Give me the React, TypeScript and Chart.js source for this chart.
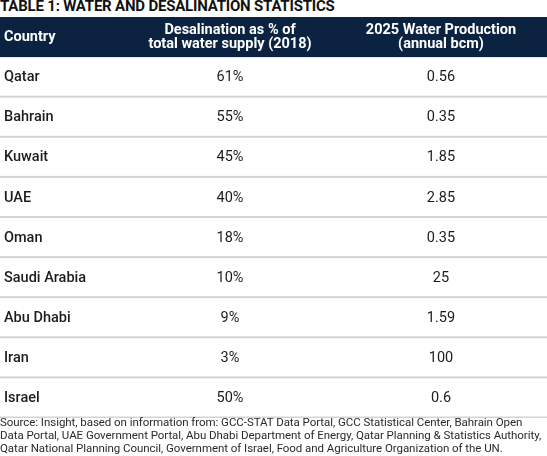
import React, { useEffect, useRef } from "react";
import { Chart, registerables } from "chart.js";

Chart.register(...registerables);

const TITLE = "TABLE 1: WATER AND DESALINATION STATISTICS";
const headers = ["Country", "Desalination as % of\ntotal water supply (2018)", "2025 Water Production\n(annual bcm)"];
const countries = ["Qatar", "Bahrain", "Kuwait", "UAE", "Oman", "Saudi Arabia", "Abu Dhabi", "Iran", "Israel"];
const desalShare = ["61%", "55%", "45%", "40%", "18%", "10%", "9%", "3%", "50%"];
const production = ["0.56", "0.35", "1.85", "2.85", "0.35", "25", "1.59", "100", "0.6"];
const SOURCE_LINES = [
  "Source: Insight, based on information from: GCC-STAT Data Portal, GCC Statistical Center, Bahrain Open",
  "Data Portal, UAE Government Portal, Abu Dhabi Department of Energy, Qatar Planning & Statistics Authority,",
  "Qatar National Planning Council, Government of Israel, Food and Agriculture Organization of the UN.",
];

const FONT = "Roboto, 'Noto Sans', sans-serif";
const NAVY = "#0b2340";
const rowKeys = ["header", ...countries];

const tablePlugin = {
  id: "tableDraw",
  afterDraw(chart: any) {
    const { ctx } = chart;
    const y = chart.scales.y;
    const x = chart.scales.x;
    const step = Math.abs(y.getPixelForValue(1) - y.getPixelForValue(0));
    const left = x.getPixelForValue(0);
    const right = x.getPixelForValue(547);
    const colX = [x.getPixelForValue(4), x.getPixelForValue(230), x.getPixelForValue(441)];
    ctx.save();
    // header band
    const hy = y.getPixelForValue(0);
    ctx.fillStyle = NAVY;
    ctx.fillRect(left, hy - step / 2, right - left, step);
    ctx.fillStyle = "#ffffff";
    ctx.textBaseline = "middle";
    ctx.font = `bold 14.5px ${FONT}`;
    headers.forEach((h, ci) => {
      const lines = h.split("\n");
      ctx.textAlign = ci === 0 ? "left" : "center";
      const lh = 14.5;
      lines.forEach((ln, li) => {
        const off = (li - (lines.length - 1) / 2) * lh;
        ctx.fillText(ln, colX[ci], hy + off + 0.5);
      });
    });
    // rows
    countries.forEach((c, i) => {
      const cy = y.getPixelForValue(i + 1);
      ctx.fillStyle = "#1c1c1c";
      ctx.textAlign = "left";
      ctx.font = `500 14.5px ${FONT}`;
      ctx.fillText(c, colX[0], cy + 0.5);
      ctx.font = `400 14.5px ${FONT}`;
      ctx.textAlign = "center";
      ctx.fillText(desalShare[i], colX[1], cy + 0.5);
      ctx.fillText(production[i], colX[2], cy + 0.5);
      ctx.fillStyle = "#d4d4d4";
      ctx.fillRect(left, cy + step / 2 - 1.5, right - left, 2);
    });
    ctx.restore();
  },
};

export default function App() {
  const ref = useRef<HTMLCanvasElement>(null);
  useEffect(() => {
    document.body.style.margin = "0";
    const chart = new Chart(ref.current!, {
      type: "scatter",
      data: { datasets: [] },
      options: {
        animation: false,
        responsive: false,
        devicePixelRatio: 1,
        layout: { padding: 0 },
        plugins: { legend: { display: false }, tooltip: { enabled: false } },
        scales: {
          x: { type: "linear", min: 0, max: 547, display: false },
          y: { type: "category", labels: rowKeys, offset: true, display: false },
        },
      },
      plugins: [tablePlugin],
    });
    return () => chart.destroy();
  }, []);
  return (
    <div style={{ position: "relative", width: 547, height: 456, background: "#fff", fontFamily: FONT, overflow: "hidden" }}>
      <div
        style={{
          position: "absolute",
          left: 0,
          top: -1,
          fontWeight: 700,
          fontSize: 15,
          lineHeight: "15px",
          color: "#111",
          letterSpacing: -0.2,
          whiteSpace: "nowrap",
        }}
      >
        {TITLE}
      </div>
      <canvas ref={ref} width={547} height={401} style={{ position: "absolute", left: 0, top: 17, width: 547, height: 401 }} />
      <div
        style={{
          position: "absolute",
          left: 0,
          top: 416,
          width: 547,
          fontSize: 11.5,
          lineHeight: "13px",
          color: "#2a2a2a",
          whiteSpace: "nowrap",
          letterSpacing: -0.05,
        }}
      >
        {SOURCE_LINES.map((l, i) => (
          <div key={i}>{l}</div>
        ))}
      </div>
    </div>
  );
}
